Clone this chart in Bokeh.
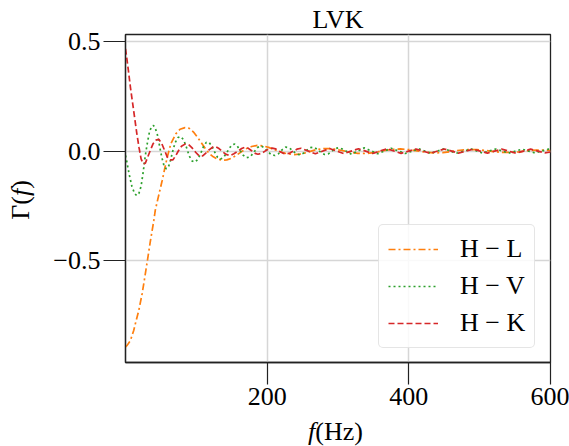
from bokeh.plotting import figure
from bokeh.models import FixedTicker, Legend, LegendItem, Range1d, Div
from bokeh.layouts import row, column
from bokeh.embed import file_html
from bokeh.resources import INLINE

# ---------------- data ----------------
title_text = "LVK"
series_names = ["H \u2212 L", "H \u2212 V", "H \u2212 K"]
x_ticks = [200, 400, 600]
y_ticks = [-0.5, 0.0, 0.5]
y_tick_labels = ["\u22120.5", "0.0", "0.5"]

f_HL = [0, 2.3, 7, 11.7, 14, 18.8, 23.5, 26, 30.6, 35.3, 40, 42, 47, 51.8, 56, 59,
        64, 71, 77, 84, 90, 96, 102, 108, 113, 118, 124, 130, 137, 143, 150, 157,
        164, 171, 178, 186, 194, 202, 210, 218, 228, 238, 248, 258, 268, 280, 292,
        304, 316, 328, 340, 352, 364, 376, 388, 400, 412, 424, 436, 448, 460, 472,
        484, 496, 508, 520, 532, 544, 556, 568, 580, 592, 600]
g_HL = [-0.893, -0.886, -0.863, -0.817, -0.786, -0.726, -0.65, -0.60, -0.506, -0.407,
        -0.316, -0.27, -0.20, -0.134, -0.07, -0.027, 0.034, 0.079, 0.100, 0.107, 0.104,
        0.087, 0.062, 0.034, 0.010, -0.010, -0.026, -0.036, -0.041, -0.040, -0.032,
        -0.018, -0.002, 0.012, 0.021, 0.026, 0.024, 0.017, 0.007, -0.003, -0.012,
        -0.016, -0.013, -0.004, 0.006, 0.012, 0.011, 0.004, -0.004, -0.010, -0.011,
        -0.006, 0.002, 0.008, 0.010, 0.007, 0.001, -0.005, -0.008, -0.007, -0.002,
        0.004, 0.007, 0.007, 0.003, -0.002, -0.006, -0.006, -0.003, 0.002, 0.005,
        0.005, 0.003]

f_HV = [0, 2, 5, 9, 13, 16, 19, 22, 25, 28, 31, 34, 37, 39.5, 42, 45, 48, 51, 54, 57,
        60, 63, 66, 70, 74, 78, 82, 86, 90, 94, 98, 102, 106, 110, 114, 118, 122, 126,
        130, 134, 138, 142, 146, 150, 154, 158, 162, 166, 171, 176, 181, 186, 191, 196,
        201, 206, 211, 216, 221, 226, 231, 236, 241, 246, 251, 256, 261, 266, 271, 276,
        281, 286, 291, 296, 301, 306, 319, 337, 356, 375, 395, 414, 431, 450, 467, 488,
        504, 523, 541, 560, 578, 597, 600]
g_HV = [-0.02, -0.05, -0.103, -0.160, -0.195, -0.203, -0.192, -0.160, -0.095, -0.02,
        0.040, 0.090, 0.113, 0.117, 0.105, 0.075, 0.025, -0.025, -0.062, -0.080, -0.077,
        -0.050, -0.008, 0.038, 0.062, 0.066, 0.052, 0.018, -0.022, -0.045, -0.050,
        -0.038, -0.012, 0.020, 0.040, 0.040, 0.022, -0.005, -0.028, -0.036, -0.030,
        -0.012, 0.010, 0.028, 0.032, 0.022, 0.002, -0.018, -0.030, -0.026, -0.006,
        0.016, 0.024, 0.016, -0.002, -0.017, -0.020, -0.012, 0.006, 0.018, 0.016, 0.002,
        -0.012, -0.017, -0.010, 0.004, 0.016, 0.018, 0.008, -0.006, -0.015, -0.013,
        -0.002, 0.011, 0.016, 0.010, -0.014, 0.015, -0.012, 0.013, -0.011, 0.011,
        -0.010, 0.011, -0.010, 0.010, -0.009, 0.010, -0.009, 0.009, -0.008, 0.009, 0.008]

f_HK = [0, 2, 4, 7, 10, 13, 16, 19, 22, 25, 28, 31, 35, 39, 43, 47, 51, 55, 59, 63, 67,
        71, 75, 79, 84, 89, 94, 99, 104, 109, 113, 118, 123, 127, 132, 137, 142, 148,
        153, 158, 164, 168, 173, 178, 183, 187, 192, 197, 202, 207, 212, 217, 222, 227,
        232, 237, 242, 248, 268, 288, 308, 329, 349, 369, 389, 410, 430, 450, 470, 491,
        511, 531, 551, 572, 592, 600]
g_HK = [0.467, 0.42, 0.37, 0.29, 0.22, 0.15, 0.08, 0.018, -0.035, -0.058, -0.055, -0.030,
        0.003, 0.034, 0.050, 0.054, 0.036, 0.005, -0.027, -0.040, -0.040, -0.020, 0.003,
        0.022, 0.032, 0.030, 0.015, -0.005, -0.022, -0.022, -0.010, 0.006, 0.018, 0.021,
        0.012, -0.003, -0.015, -0.020, -0.012, -0.002, 0.012, 0.017, 0.014, 0.002,
        -0.010, -0.014, -0.010, 0.000, 0.010, 0.014, 0.010, 0.000, -0.009, -0.013,
        -0.009, 0.000, 0.009, 0.013, -0.012, 0.012, -0.011, 0.011, -0.011, 0.011,
        -0.010, 0.010, -0.010, 0.010, -0.009, 0.009, -0.009, 0.009, -0.009, 0.009,
        -0.008, -0.004]

# ---------------- styling ----------------
FONT = "Liberation Serif"
FS = "26px"
C_HL, C_HV, C_HK = "#ff7f0e", "#2ca02c", "#d62728"
LEFT_W = 40      # width of the y-label strip
BOT_H = 28       # height of the x-label strip

p = figure(width=569 - LEFT_W, height=446 - BOT_H, output_backend="svg",
           toolbar_location=None,
           x_range=Range1d(0, 600), y_range=Range1d(-0.964, 0.532),
           min_border_left=125 - LEFT_W, min_border_right=19, min_border_top=34,
           min_border_bottom=56)
p.margin = 0
p.background_fill_color = "white"
p.border_fill_color = "white"
p.outline_line_color = "#222222"
p.outline_line_width = 1.3

p.title.text = title_text
p.title.align = "center"
p.title.text_font = FONT
p.title.text_font_size = FS
p.title.text_font_style = "normal"
p.title.text_color = "black"
p.title.standoff = 2

p.xaxis.ticker = FixedTicker(ticks=x_ticks)
p.yaxis.ticker = FixedTicker(ticks=y_ticks)
p.yaxis.major_label_overrides = {t: s for t, s in zip(y_ticks, y_tick_labels)}
for ax in (p.xaxis[0], p.yaxis[0]):
    ax.major_tick_out = 22
    ax.major_tick_in = 0
    ax.minor_tick_out = 0
    ax.minor_tick_in = 0
    ax.major_tick_line_color = "#222222"
    ax.major_tick_line_width = 1.2
    ax.axis_line_color = "#222222"
    ax.axis_line_width = 1.3
    ax.major_label_text_font = FONT
    ax.major_label_text_font_size = FS
    ax.major_label_text_color = "black"
    ax.major_label_standoff = 3
p.yaxis.major_label_orientation = "horizontal"

p.grid.grid_line_color = "#d6d6d6"
p.grid.grid_line_width = 1.5

r_hl = p.line(f_HL, g_HL, line_color=C_HL, line_width=1.7, line_dash="7 3 2 3")
r_hv = p.line(f_HV, g_HV, line_color=C_HV, line_width=1.7, line_dash="2 3")
r_hk = p.line(f_HK, g_HK, line_color=C_HK, line_width=1.7, line_dash="6 3")

legend = Legend(items=[LegendItem(label=series_names[0], renderers=[r_hl]),
                       LegendItem(label=series_names[1], renderers=[r_hv]),
                       LegendItem(label=series_names[2], renderers=[r_hk])],
                location=(253, 14))
legend.label_text_font = FONT
legend.label_text_font_size = FS
legend.label_text_color = "black"
legend.glyph_width = 50
legend.glyph_height = 28
legend.label_height = 28
legend.spacing = 7
legend.padding = 9
legend.label_standoff = 22
legend.border_line_color = "#cccccc"
legend.border_line_width = 1.2
legend.background_fill_alpha = 0.85
legend.margin = 0
if "border_radius" in Legend.properties():
    legend.border_radius = 5
p.add_layout(legend)

# y-axis label  Γ(f)  (rotated HTML text in a strip at the left)
ylab = Div(width=LEFT_W, height=446, margin=0,
           text=("<div style=\"position:absolute; left:21px; top:200px; "
                 "transform:translate(-50%,-50%) rotate(-90deg); white-space:nowrap; "
                 "font-family:'Liberation Serif'; font-size:26px; line-height:1; "
                 "color:black;\">\u0393(<i>f</i>)</div>"))
# x-axis label  f(Hz)
xlab = Div(width=569 - LEFT_W, height=BOT_H, margin=0,
           text=("<div style=\"padding-left:268px; white-space:nowrap; "
                 "font-family:'Liberation Serif'; font-size:26px; line-height:28px; "
                 "color:black;\"><i>f</i>(Hz)</div>"))

layout = row(ylab, column(p, xlab, spacing=0), spacing=0)
open("out.html", "w").write(file_html(layout, INLINE))
